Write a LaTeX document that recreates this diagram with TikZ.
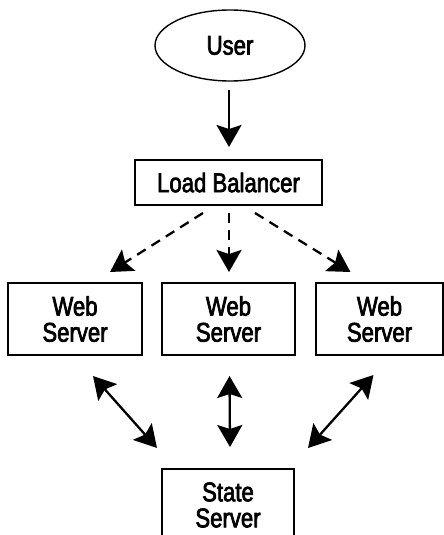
\documentclass[tikz,border=0pt]{standalone}
\usepackage{fontspec}
\setmainfont{Liberation Sans}[FakeStretch=0.82,FakeBold=2.5]
\usetikzlibrary{arrows.meta,shapes.geometric,calc}
\newcommand\lblfont{\fontsize{27}{26}\selectfont}
\begin{document}
\begin{tikzpicture}[x=1pt,y=-1pt,
  box/.style={draw, line width=1.8pt, minimum height=72pt, align=center, font=\lblfont, inner sep=0pt, outer sep=0pt},
  oval/.style={draw, ellipse, line width=1.4pt, minimum width=150pt, minimum height=71pt, font=\lblfont, inner sep=0pt, outer sep=0pt},
  arr/.style={line width=2.3pt, -{Stealth[length=22pt,width=25pt,inset=4pt]}},
  darr/.style={line width=2.3pt, dash pattern=on 10pt off 7pt, -{Stealth[length=22pt,width=25pt,inset=4pt]}},
  barr/.style={line width=2.3pt, {Stealth[length=22pt,width=25pt,inset=4pt]}-{Stealth[length=22pt,width=25pt,inset=4pt]}}
]
\useasboundingbox (0,0) rectangle (444,535);
\clip (0,0) rectangle (444,535);
\node[oval] (user) at (230,45.5) {User};
\node[box, minimum width=187pt, minimum height=45pt] (lb) at (228.5,182.5) {Load Balancer};
\node[box, minimum width=134pt] (wl) at (75,319) {Web\\Server};
\node[box, minimum width=133pt] (wm) at (228.5,319) {Web\\Server};
\node[box, minimum width=127pt] (wr) at (379.5,319) {Web\\Server};
\node[box, minimum width=132pt] (ss) at (228,505) {State\\Server};

\draw[arr] ($(user.south)+(-1,9)$) -- ($(lb.north)+(0.5,-13)$);

\draw[darr] ($(lb.south)+(-25.5,8)$) -- ($(wl.north)+(35,-11)$);
\draw[darr] ($(lb.south)+(0.5,8)$) -- ($(wm.north)+(0.5,-11)$);
\draw[darr] ($(lb.south)+(26.5,8)$) -- ($(wr.north)+(-29,-11)$);

\draw[barr] ($(wl.south)+(18,21)$) -- ($(ss.north)+(-71,-21)$);
\draw[barr] ($(wm.south)+(1,21)$) -- ($(ss.north)+(2,-22)$);
\draw[barr] ($(wr.south)+(-6,20)$) -- ($(ss.north)+(80,-21)$);
\end{tikzpicture}
\end{document}
